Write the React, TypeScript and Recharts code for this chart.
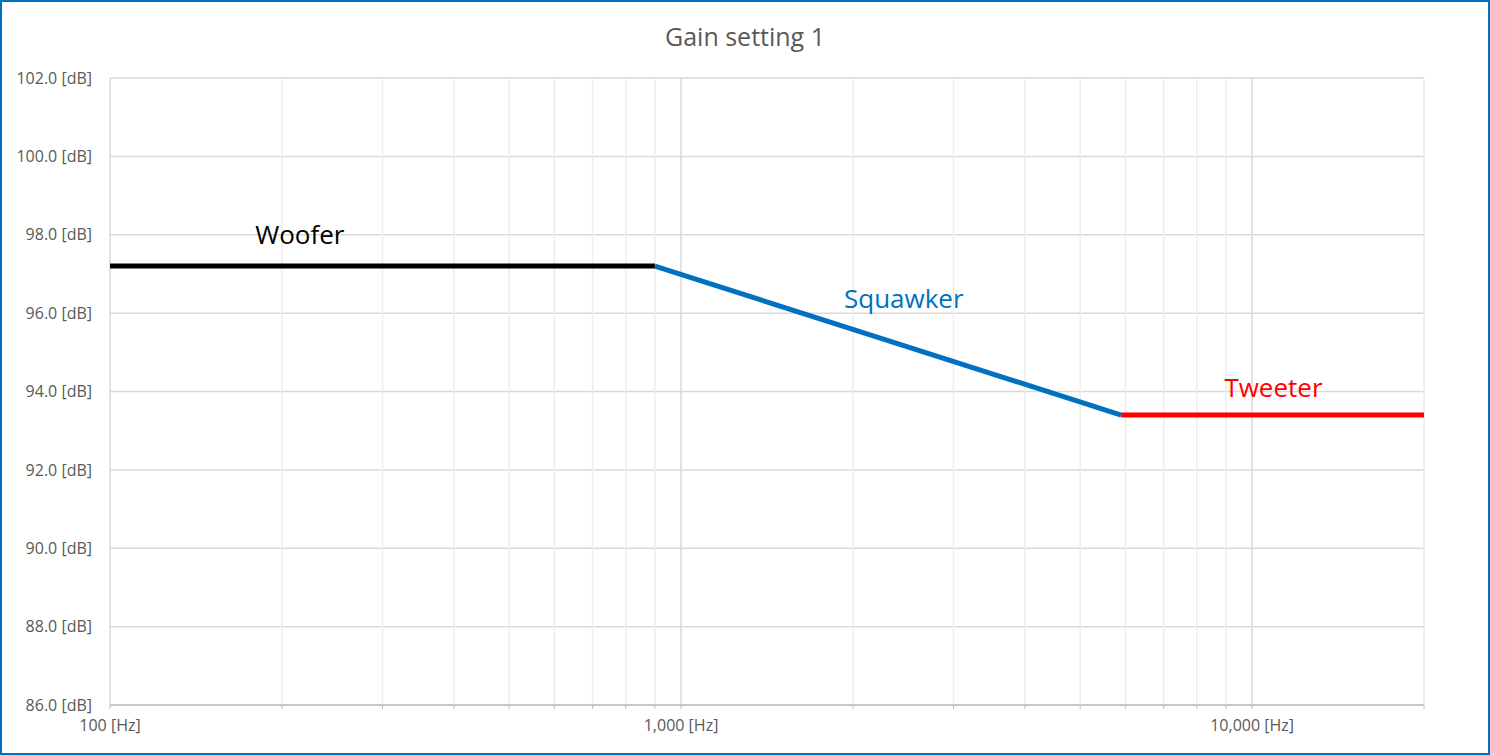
import React from "react";
import {
  ComposedChart,
  Line,
  XAxis,
  YAxis,
  CartesianGrid,
  ReferenceLine,
  ReferenceDot,
} from "recharts";

const wooferFreq = [100, 900];
const wooferDb = [97.2, 97.2];
const squawkerFreq = [900, 5900];
const squawkerDb = [97.2, 93.4];
const tweeterFreq = [5900, 20000];
const tweeterDb = [93.4, 93.4];

const majorX = [100, 1000, 10000];
const minorX = [200, 300, 400, 500, 600, 700, 800, 900, 2000, 3000, 4000, 5000, 6000, 7000, 8000, 9000, 20000];
const allX = [...majorX, ...minorX].sort((a, b) => a - b);
const yTicks = [86, 88, 90, 92, 94, 96, 98, 100, 102];

const seriesLabels = [
  { text: "Woofer", x: 215, y: 98.0, color: "#000000" },
  { text: "Squawker", x: 2455, y: 96.36, color: "#0070C0" },
  { text: "Tweeter", x: 10900, y: 94.09, color: "#FF0000" },
];

const toPts = (f: number[], d: number[]) => f.map((x, i) => ({ x, y: d[i] }));
const woofer = toPts(wooferFreq, wooferDb);
const squawker = toPts(squawkerFreq, squawkerDb);
const tweeter = toPts(tweeterFreq, tweeterDb);

const FONT = "'Open Sans', sans-serif";

export default function App() {
  return (
    <div
      style={{
        position: "fixed",
        left: 0,
        top: 0,
        width: 1490,
        height: 755,
        boxSizing: "border-box",
        border: "2px solid #0070C0",
        background: "#fff",
        fontFamily: FONT,
      }}
    >
      <div
        style={{
          position: "absolute",
          left: 0,
          right: 0,
          top: 18,
          textAlign: "center",
          fontSize: 25,
          color: "#595959",
          lineHeight: "32px",
        }}
      >
        Gain setting 1
      </div>
      <div style={{ position: "absolute", left: -2, top: -2 }}>
        <ComposedChart
          width={1490}
          height={755}
          margin={{ top: 78, right: 66, bottom: 0, left: 0 }}
        >
          <CartesianGrid vertical={false} stroke="#D9D9D9" strokeWidth={1.5} />
          {minorX.map((v) => (
            <ReferenceLine key={"m" + v} x={v} stroke="#EDEDED" strokeWidth={1.5} />
          ))}
          {majorX.map((v) => (
            <ReferenceLine key={"M" + v} x={v} stroke="#D9D9D9" strokeWidth={1.5} />
          ))}
          <XAxis
            dataKey="x"
            type="number"
            scale="log"
            domain={[100, 20000]}
            ticks={allX}
            interval={0}
            allowDataOverflow
            tickFormatter={(v: number) =>
              majorX.includes(v) ? v.toLocaleString("en-US") + " [Hz]" : ""
            }
            height={50}
            tickSize={4}
            tickMargin={11}
            axisLine={{ stroke: "#BFBFBF", strokeWidth: 1.5 }}
            tickLine={{ stroke: "#BFBFBF" }}
            tick={{ fill: "#595959", fontSize: 16, fontFamily: FONT }}
          />
          <YAxis
            type="number"
            domain={[86, 102]}
            ticks={yTicks}
            interval={0}
            width={110}
            axisLine={false}
            tickLine={false}
            tickSize={6}
            tickMargin={12}
            tickFormatter={(v: number) => v.toFixed(1) + " [dB]"}
            tick={{ fill: "#595959", fontSize: 16, fontFamily: FONT }}
          />
          <Line
            data={woofer}
            dataKey="y"
            stroke="#000000"
            strokeWidth={5}
            dot={false}
            isAnimationActive={false}
          />
          <Line
            data={squawker}
            dataKey="y"
            stroke="#0070C0"
            strokeWidth={5}
            dot={false}
            isAnimationActive={false}
          />
          <Line
            data={tweeter}
            dataKey="y"
            stroke="#FF0000"
            strokeWidth={5}
            dot={false}
            isAnimationActive={false}
          />
          {seriesLabels.map((l) => (
            <ReferenceDot
              key={l.text}
              x={l.x}
              y={l.y}
              r={0}
              fill="none"
              stroke="none"
              label={{
                value: l.text,
                position: "center",
                fill: l.color,
                fontSize: 26,
                fontFamily: FONT,
              }}
            />
          ))}
        </ComposedChart>
      </div>
    </div>
  );
}
